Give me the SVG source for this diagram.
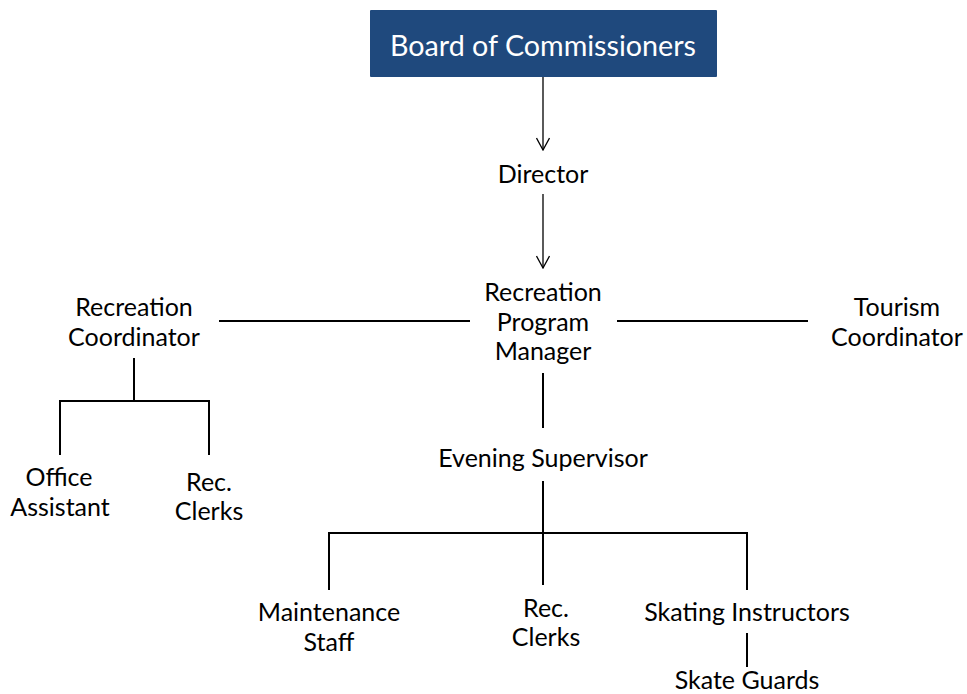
<svg xmlns="http://www.w3.org/2000/svg" width="967" height="694" viewBox="0 0 967 694">
<defs>
<marker id="arr" viewBox="0 0 14 14" refX="13" refY="7" markerWidth="14" markerHeight="14" markerUnits="userSpaceOnUse" orient="auto">
<path d="M1,0.5 L13,7 L1,13.5" fill="none" stroke="#000" stroke-width="1.3"/>
</marker>
</defs>
<style>
text{font-family:Lato,"Open Sans","Liberation Sans",sans-serif;font-size:25px;fill:#000;text-anchor:middle}
.title{fill:#fff;font-size:28.7px}
.ln{stroke:#000;stroke-width:2;fill:none}
.ar{stroke:#000;stroke-width:1.3;fill:none}
</style>
<rect width="967" height="694" fill="#fff"/>
<g id="connectors">
<line class="ar" x1="543" y1="77" x2="543" y2="150" marker-end="url(#arr)"/>
<line class="ar" x1="543" y1="194" x2="543" y2="268" marker-end="url(#arr)"/>
<line class="ln" x1="219" y1="321" x2="470" y2="321"/>
<line class="ln" x1="617" y1="321" x2="808" y2="321"/>
<line class="ln" x1="134" y1="358" x2="134" y2="401"/>
<polyline class="ln" points="60,455 60,401 209,401 209,455"/>
<line class="ln" x1="543" y1="373" x2="543" y2="428"/>
<line class="ln" x1="543" y1="481" x2="543" y2="585"/>
<polyline class="ln" points="329,590 329,533 747,533 747,590"/>
<line class="ln" x1="747" y1="633" x2="747" y2="667"/>
</g>
<g id="board">
<rect x="370" y="10" width="347" height="67" fill="#1f497d" rx="1"/>
<text class="title" x="543" y="56">Board of Commissioners</text>
</g>
<g id="director"><text x="543" y="183">Director</text></g>
<g id="rpm"><text x="543" y="301">Recreation</text><text x="543" y="331">Program</text><text x="543" y="360">Manager</text></g>
<g id="rec-coord"><text x="134" y="316">Recreation</text><text x="134" y="346">Coordinator</text></g>
<g id="tourism"><text x="897" y="316">Tourism</text><text x="897" y="346">Coordinator</text></g>
<g id="office"><text x="59" y="486">Office</text><text x="60" y="516">Assistant</text></g>
<g id="rec-clerks-1"><text x="209" y="491">Rec.</text><text x="209" y="520">Clerks</text></g>
<g id="evening"><text x="543" y="467">Evening Supervisor</text></g>
<g id="maint"><text x="329" y="621">Maintenance</text><text x="329" y="651">Staff</text></g>
<g id="rec-clerks-2"><text x="546" y="617">Rec.</text><text x="546" y="646">Clerks</text></g>
<g id="skating"><text x="747" y="621">Skating Instructors</text></g>
<g id="guards"><text x="747" y="689">Skate Guards</text></g>
</svg>
